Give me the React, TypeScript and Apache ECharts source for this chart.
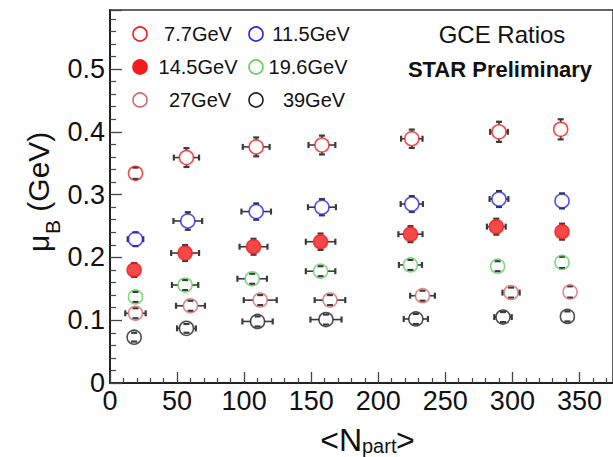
import React, { useEffect, useRef } from 'react';
import * as echarts from 'echarts';

// ---- data ----
const energies = ['7.7GeV', '11.5GeV', '14.5GeV', '19.6GeV', '27GeV', '39GeV'];

const npart77 = [19, 57, 109, 158, 225, 290, 336];
const npart115 = [19, 58, 109, 158, 225, 290, 337];
const npart145 = [18, 56, 107, 157, 224, 288, 337];
const npart196 = [19, 56, 106, 157, 224, 289, 337];
const npart27 = [19, 60, 112, 164, 233, 299, 343];
const npart39 = [18, 57, 110, 161, 228, 293, 341];

const mu77 = [0.334, 0.359, 0.376, 0.379, 0.389, 0.4, 0.404];
const mu115 = [0.229, 0.258, 0.273, 0.28, 0.285, 0.293, 0.29];
const mu145 = [0.18, 0.207, 0.217, 0.225, 0.237, 0.249, 0.241];
const mu196 = [0.137, 0.156, 0.166, 0.178, 0.188, 0.186, 0.192];
const mu27 = [0.111, 0.123, 0.132, 0.132, 0.139, 0.144, 0.145];
const mu39 = [0.073, 0.087, 0.098, 0.101, 0.102, 0.105, 0.106];

const xerr77 = [2, 9.4, 10, 10, 8, 6.6, 2];
const xerr115 = [5.8, 10.7, 11, 10.4, 8.3, 7, 2];
const xerr145 = [2, 10.4, 10.4, 11, 9, 7, 2];
const xerr196 = [2, 9.8, 11, 11, 8.6, 2, 2];
const xerr27 = [7.6, 10.8, 12.3, 11.4, 9.2, 6.4, 2];
const xerr39 = [2, 7, 11.3, 11.6, 9, 6.5, 2];

const yerr77 = [0.009, 0.015, 0.015, 0.015, 0.0146, 0.016, 0.016];
const yerr115 = [0.011, 0.014, 0.013, 0.013, 0.0127, 0.0127, 0.012];
const yerr145 = [0.011, 0.0127, 0.0127, 0.013, 0.0127, 0.0127, 0.0127];
const yerr196 = [0.008, 0.008, 0.008, 0.008, 0.008, 0.008, 0.009];
const yerr27 = [0.008, 0.008, 0.008, 0.008, 0.008, 0.008, 0.009];
const yerr39 = [0.007, 0.007, 0.008, 0.008, 0.008, 0.008, 0.008];

const xTickStep = 50;
const yTickStep = 0.1;
const xMax = 375;
const yMax = 0.594;

const npartAll = [npart77, npart115, npart145, npart196, npart27, npart39];
const muAll = [mu77, mu115, mu145, mu196, mu27, mu39];
const xerrAll = [xerr77, xerr115, xerr145, xerr196, xerr27, xerr39];
const yerrAll = [yerr77, yerr115, yerr145, yerr196, yerr27, yerr39];

// ---- styles / layout ----
const colors = ['#f21c1c', '#2323f0', '#f21c1c', '#5fcf5f', '#d96a6a', '#222222'];
const filled = [false, false, true, false, false, false];
const legendLayout = [
  { mx: 140, tx: 198, y: 34 },
  { mx: 256, tx: 311, y: 34 },
  { mx: 140, tx: 198, y: 67 },
  { mx: 256, tx: 308, y: 67 },
  { mx: 140, tx: 200, y: 100 },
  { mx: 256, tx: 314, y: 100 },
];
const FONT = '"Liberation Sans", Arial, Helvetica, sans-serif';
const MARK = 14;

export default function App() {
  const ref = useRef<HTMLDivElement>(null);
  useEffect(() => {
    if (!ref.current) return;
    const chart = echarts.init(ref.current, undefined, { renderer: 'svg' });
    const R = MARK / 2;

    const errSeries = energies.map((name, s) => ({
      type: 'custom',
      name: name + ' err',
      z: 2,
      silent: true,
      data: npartAll[s].map((x, i) => [x, muAll[s][i], xerrAll[s][i], yerrAll[s][i]]),
      renderItem: (params: any, api: any) => {
        const x = api.value(0);
        const y = api.value(1);
        const xe = api.value(2);
        const ye = api.value(3);
        const c = api.coord([x, y]);
        const l = api.coord([x - xe, y]);
        const r = api.coord([x + xe, y]);
        const t = api.coord([x, y + ye]);
        const b = api.coord([x, y - ye]);
        const st = { stroke: '#3a3a3a', lineWidth: 1.6 };
        const cs = { stroke: '#3a3a3a', lineWidth: 2.2 };
        const ch: any[] = [];
        const dx = c[0] - l[0];
        const dy = c[1] - t[1];
        const cap = 3;
        if (dx > R) {
          ch.push({ type: 'line', shape: { x1: l[0], y1: c[1], x2: c[0] - R, y2: c[1] }, style: st });
          ch.push({ type: 'line', shape: { x1: c[0] + R, y1: c[1], x2: r[0], y2: c[1] }, style: st });
        }
        if (dx >= 4) {
          ch.push({ type: 'line', shape: { x1: l[0], y1: c[1] - cap, x2: l[0], y2: c[1] + cap }, style: cs });
          ch.push({ type: 'line', shape: { x1: r[0], y1: c[1] - cap, x2: r[0], y2: c[1] + cap }, style: cs });
        }
        if (dy > R) {
          ch.push({ type: 'line', shape: { x1: c[0], y1: t[1], x2: c[0], y2: c[1] - R }, style: st });
          ch.push({ type: 'line', shape: { x1: c[0], y1: c[1] + R, x2: c[0], y2: b[1] }, style: st });
        }
        if (dy >= 4) {
          ch.push({ type: 'line', shape: { x1: c[0] - cap, y1: t[1], x2: c[0] + cap, y2: t[1] }, style: cs });
          ch.push({ type: 'line', shape: { x1: c[0] - cap, y1: b[1], x2: c[0] + cap, y2: b[1] }, style: cs });
        }
        return { type: 'group', children: ch };
      },
    }));

    const pointSeries = energies.map((name, s) => ({
      type: 'scatter',
      name,
      z: 3,
      symbol: 'circle',
      symbolSize: MARK,
      data: npartAll[s].map((x, i) => [x, muAll[s][i]]),
      itemStyle: {
        color: filled[s] ? colors[s] : 'rgba(255,255,255,0)',
        borderColor: colors[s],
        borderWidth: 1.6,
      },
    }));

    const legendGraphics: any[] = [];
    energies.forEach((name, s) => {
      const L = legendLayout[s];
      legendGraphics.push({
        type: 'circle',
        shape: { cx: L.mx, cy: L.y, r: R },
        style: { fill: filled[s] ? colors[s] : 'none', stroke: colors[s], lineWidth: 1.6 },
      });
      legendGraphics.push({
        type: 'text',
        x: L.tx,
        y: L.y,
        style: { text: name, font: `20px ${FONT}`, fill: '#111', align: 'center', verticalAlign: 'middle' },
      });
    });

    chart.setOption({
      animation: false,
      grid: {
        left: 110,
        top: 10,
        width: 508,
        height: 373,
        show: true,
        borderColor: '#333',
        borderWidth: 1.5,
        backgroundColor: 'transparent',
      },
      xAxis: {
        type: 'value',
        min: 0,
        max: xMax,
        interval: xTickStep,
        axisLine: { show: true, lineStyle: { color: '#222', width: 2 } },
        axisTick: { show: true, inside: true, length: 11, lineStyle: { color: '#444', width: 1.3 } },
        minorTick: { show: true, splitNumber: 5, length: 5, lineStyle: { color: '#444', width: 1.2 } },
        splitLine: { show: false },
        axisLabel: { show: true, showMaxLabel: false, margin: 4, fontSize: 27, fontFamily: FONT, color: '#111' },
      },
      yAxis: {
        type: 'value',
        min: 0,
        max: yMax,
        interval: yTickStep,
        axisLine: { show: true, lineStyle: { color: '#222', width: 2 } },
        axisTick: { show: true, inside: true, length: 12, lineStyle: { color: '#444', width: 1.3 } },
        minorTick: { show: true, splitNumber: 5, length: 6, lineStyle: { color: '#444', width: 1.2 } },
        splitLine: { show: false },
        axisLabel: {
          show: true,
          showMaxLabel: false,
          margin: 5,
          fontSize: 27,
          fontFamily: FONT,
          color: '#111',
          formatter: (v: number) => (Math.abs(v) < 1e-9 ? '0' : String(Math.round(v * 10) / 10)),
        },
      },
      graphic: [
        ...legendGraphics,
        {
          type: 'text',
          x: 502,
          y: 34,
          style: { text: 'GCE Ratios', font: `24px ${FONT}`, fill: '#111', align: 'center', verticalAlign: 'middle' },
        },
        {
          type: 'text',
          x: 500,
          y: 69,
          style: { text: 'STAR Preliminary', font: `bold 22px ${FONT}`, fill: '#111', align: 'center', verticalAlign: 'middle' },
        },
        // x-axis title <N_part>
        {
          type: 'text',
          x: 362,
          y: 440,
          style: { text: '<N', font: `32px ${FONT}`, fill: '#111', align: 'right', verticalAlign: 'middle' },
        },
        {
          type: 'text',
          x: 362,
          y: 446,
          style: { text: 'part', font: `20px ${FONT}`, fill: '#111', align: 'left', verticalAlign: 'middle' },
        },
        {
          type: 'text',
          x: 396,
          y: 440,
          style: { text: '>', font: `32px ${FONT}`, fill: '#111', align: 'left', verticalAlign: 'middle' },
        },
        // y-axis title mu_B (GeV)
        {
          type: 'group',
          x: 38,
          y: 190,
          rotation: Math.PI / 2,
          children: [
            {
              type: 'text',
              x: -62,
              y: 0,
              style: { text: 'μ', font: `30px ${FONT}`, fill: '#111', align: 'left', verticalAlign: 'middle' },
            },
            {
              type: 'text',
              x: -44,
              y: 14,
              style: { text: 'B', font: `21px ${FONT}`, fill: '#111', align: 'left', verticalAlign: 'middle' },
            },
            {
              type: 'text',
              x: -30,
              y: 0,
              style: { text: ' (GeV)', font: `30px ${FONT}`, fill: '#111', align: 'left', verticalAlign: 'middle' },
            },
          ],
        },
      ],
      series: [...errSeries, ...pointSeries],
    });
    return () => chart.dispose();
  }, []);
  return (
    <div
      ref={ref}
      style={{ position: 'fixed', left: 0, top: 0, width: 613, height: 457, background: '#fff' }}
    />
  );
}
